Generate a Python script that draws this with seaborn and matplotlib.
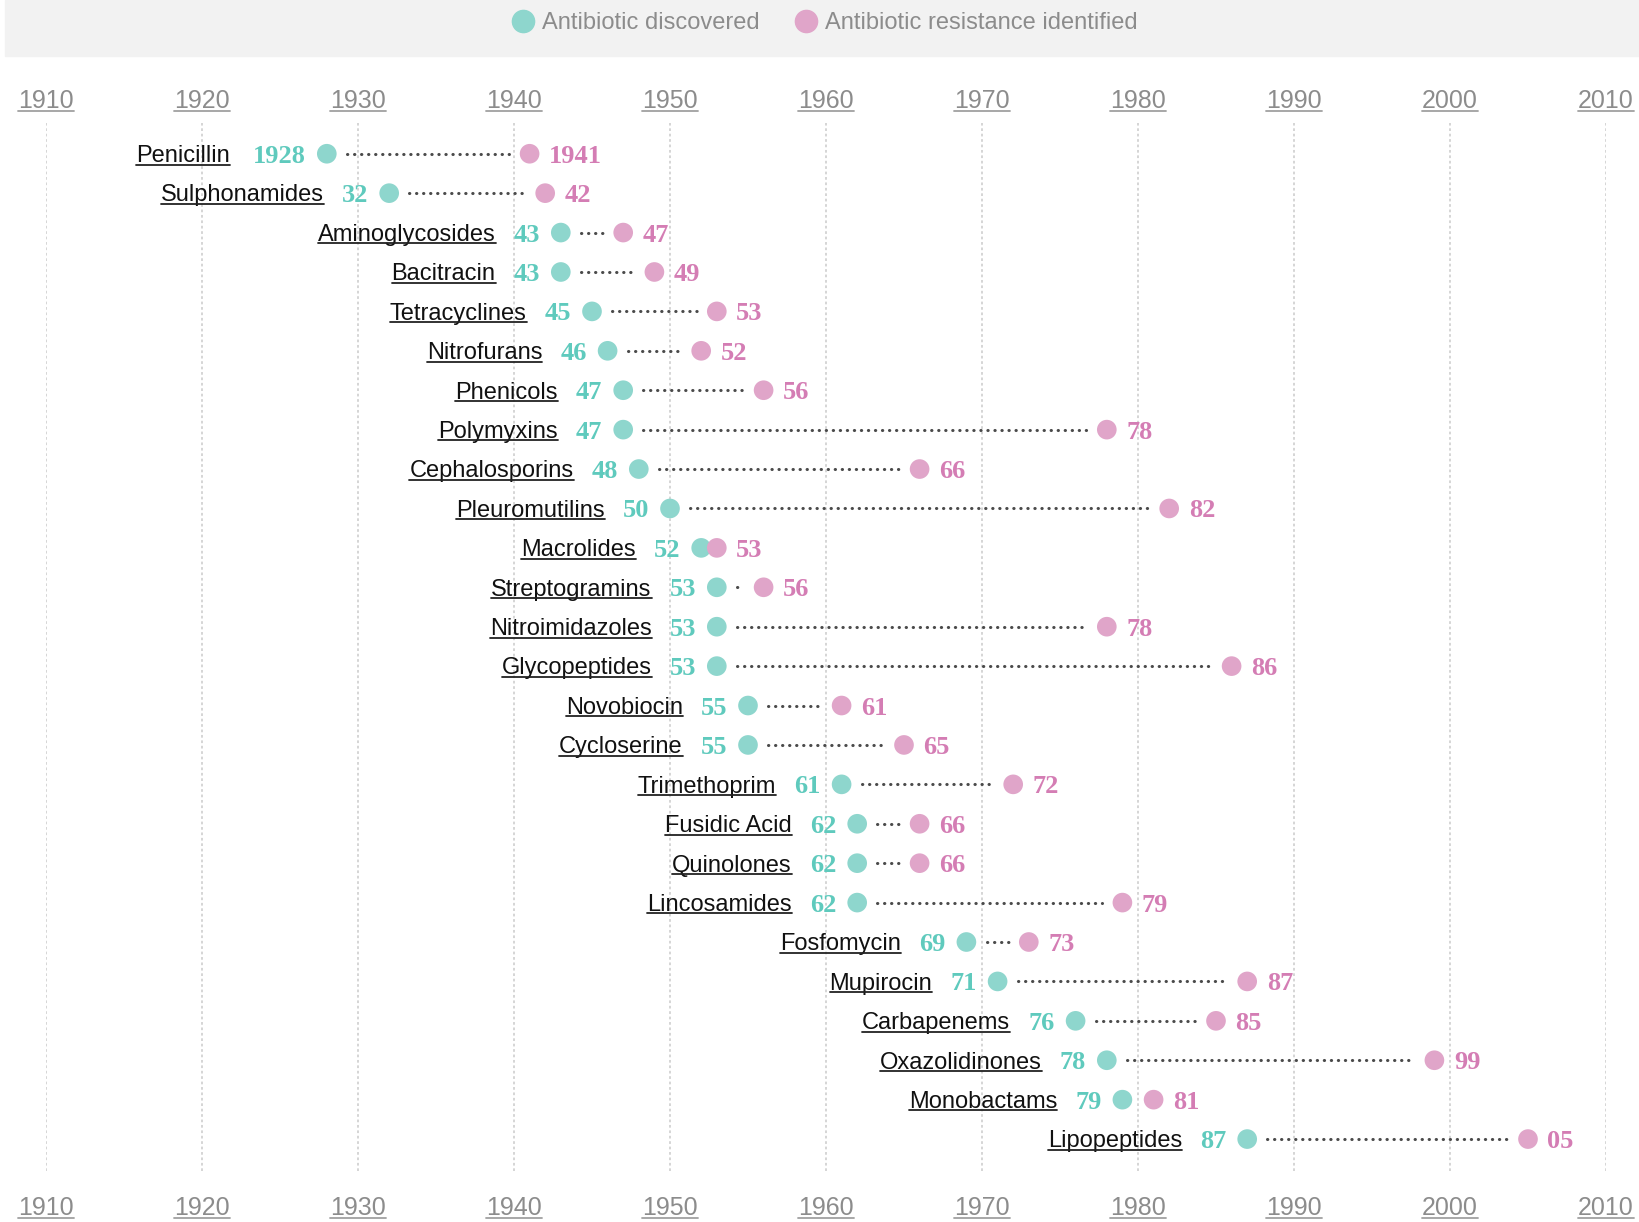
import pandas as pd
import matplotlib
matplotlib.use('Agg')
import matplotlib.pyplot as plt
import seaborn as sns
from matplotlib.lines import Line2D
from matplotlib.patches import Rectangle

# dados: classes de antibióticos, ano da descoberta e ano da resistência
nomes = ['Penicillin', 'Sulphonamides', 'Aminoglycosides', 'Bacitracin', 'Tetracyclines',
         'Nitrofurans', 'Phenicols', 'Polymyxins', 'Cephalosporins', 'Pleuromutilins',
         'Macrolides', 'Streptogramins', 'Nitroimidazoles', 'Glycopeptides', 'Novobiocin',
         'Cycloserine', 'Trimethoprim', 'Fusidic Acid', 'Quinolones', 'Lincosamides',
         'Fosfomycin', 'Mupirocin', 'Carbapenems', 'Oxazolidinones', 'Monobactams',
         'Lipopeptides']
descoberta = [1928, 1932, 1943, 1943, 1945, 1946, 1947, 1947, 1948, 1950, 1952, 1953, 1953,
              1953, 1955, 1955, 1961, 1962, 1962, 1962, 1969, 1971, 1976, 1978, 1979, 1987]
resistencia = [1941, 1942, 1947, 1949, 1953, 1952, 1956, 1978, 1966, 1982, 1953, 1956, 1978,
               1986, 1961, 1965, 1972, 1966, 1966, 1979, 1973, 1987, 1985, 1999, 1981, 2005]
anos_ticks = list(range(1910, 2011, 10))
legenda = ['Antibiotic discovered', 'Antibiotic resistance identified']

verde = '#8ed6cd'
verde_txt = '#5fcabd'
rosa = '#e0a5c9'
rosa_txt = '#d47db4'
cinza = '#8c8c8c'

sns.set_style('white')
plt.rcParams['font.family'] = ['Liberation Sans', 'DejaVu Sans']

n = len(nomes)
df = pd.DataFrame({
    'ano': descoberta + resistencia,
    'linha': list(range(n)) * 2,
    'tipo': [legenda[0]] * n + [legenda[1]] * n,
})

fig = plt.figure(figsize=(16.39, 12.22), dpi=100)
ax = fig.add_axes([46 / 1639, 1 - 1171 / 1222, (1606 - 46) / 1639, (1171 - 123) / 1222])

# linhas pontilhadas entre os dois anos
for i in range(n):
    d, r = descoberta[i], resistencia[i]
    if r - d > 2.6:
        ax.plot([d + 1.3, r - 1.3], [i, i], color='#4a4a4a', lw=2.2,
                linestyle=(0, (0.1, 2.2)), dash_capstyle='round', zorder=2)

sns.scatterplot(data=df, x='ano', y='linha', hue='tipo', palette=[verde, rosa],
                s=200, linewidth=0, ax=ax, legend=False, zorder=3)

ax.set_xlim(1910, 2010)
ax.set_ylim(n - 1 + 0.81, -0.78)
ax.set_xlabel('')
ax.set_ylabel('')
ax.set_yticks([])
for s in ax.spines.values():
    s.set_visible(False)
ax.grid(axis='x', color='#d2d2d2', linestyle=(0, (1.5, 1.5)), lw=1.3)
ax.set_xticks(anos_ticks)
ax.set_xticklabels([str(a) for a in anos_ticks])
ax.tick_params(axis='x', length=0, pad=18, labelsize=18, labelcolor=cinza)

sec = ax.secondary_xaxis('top')
sec.set_xticks(anos_ticks)
sec.set_xticklabels([str(a) for a in anos_ticks])
sec.tick_params(axis='x', length=0, pad=7, labelsize=18, labelcolor=cinza)
for s in sec.spines.values():
    s.set_visible(False)

# textos: nome, ano de descoberta, ano de resistência
textos_nome = []
for i in range(n):
    d, r = descoberta[i], resistencia[i]
    if i == 0:
        td, tr, off = str(d), str(r), -70
    else:
        td, tr, off = f'{d % 100:02d}', f'{r % 100:02d}', -47
    t = ax.annotate(nomes[i], (d, i), xytext=(off, -6), textcoords='offset points',
                    ha='right', va='baseline', fontsize=17, color='#111111')
    textos_nome.append(t)
    ax.annotate(td, (d, i), xytext=(-15, -6.5), textcoords='offset points', ha='right',
                va='baseline', fontsize=19, color=verde_txt, family='Liberation Serif',
                fontweight='bold')
    ax.annotate(tr, (r, i), xytext=(14, -6.5), textcoords='offset points', ha='left',
                va='baseline', fontsize=19, color=rosa_txt, family='Liberation Serif',
                fontweight='bold')

# faixa cinza da legenda
fig.patches.append(Rectangle((5 / 1639, 1 - 56 / 1222), 1, 56 / 1222,
                             transform=fig.transFigure, color='#f2f2f2', zorder=0))
alcas = [Line2D([], [], marker='o', ls='', ms=16, color=verde),
         Line2D([], [], marker='o', ls='', ms=16, color=rosa)]
leg = fig.legend(alcas, legenda, loc='center', bbox_to_anchor=(0.503, 1 - 23 / 1222),
                 ncol=2, frameon=False, fontsize=17, handletextpad=0.3,
                 columnspacing=1.5, handlelength=1.0)
for t in leg.get_texts():
    t.set_color(cinza)

# sublinhados
fig.canvas.draw()
rend = fig.canvas.get_renderer()
inv = fig.transFigure.inverted()


def sublinhar(t, cor, lw):
    bb = t.get_window_extent(rend)
    y = bb.y0 + 2.5
    (x0, yy), (x1, _) = inv.transform([(bb.x0, y), (bb.x1, y)])
    fig.add_artist(Line2D([x0, x1], [yy, yy], color=cor, lw=lw, transform=fig.transFigure))


for t in textos_nome:
    sublinhar(t, '#222222', 1.3)
for t in ax.get_xticklabels() + sec.get_xticklabels():
    sublinhar(t, '#a0a0a0', 1.3)

fig.savefig('out.png', dpi=100)
